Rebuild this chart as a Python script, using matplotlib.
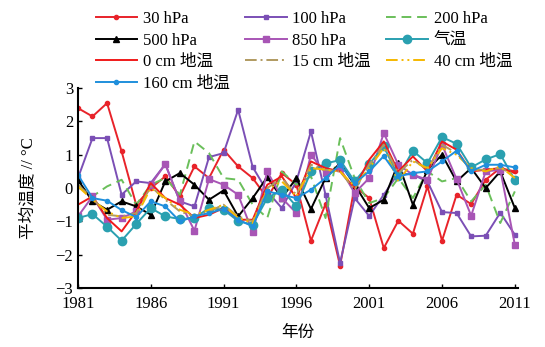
import numpy as np
import matplotlib
matplotlib.use("Agg")
import matplotlib.pyplot as plt

plt.rcParams['font.family'] = ['Liberation Serif', 'Noto Sans CJK SC']
plt.rcParams['axes.unicode_minus'] = True

years = np.arange(1981, 2012)

p30 = [2.4, 2.15, 2.55, 1.1, -0.5, 0.0, 0.35, -0.25, 0.65, 0.3, 1.15, 0.65, 0.3, -0.3, 0.45, 0.1,
       -1.58, -0.48, -2.33, 0.05, -0.3, -1.8, -0.98, -1.37, 0.05, -1.58, -0.2, -0.48, 0.25, 0.6, 0.5]
p100 = [0.3, 1.5, 1.5, -0.2, 0.2, 0.15, 0.72, -0.4, -0.55, 0.93, 1.05, 2.35, 0.63, -0.1, -0.6, 0.2,
        1.7, -0.2, -2.25, -0.3, -0.84, -0.2, 0.45, 0.4, 0.2, -0.72, -0.75, -1.45, -1.43, -0.74, -1.4]
p200 = [0.1, -0.25, 0.05, 0.25, -0.5, 0.1, 0.3, -0.2, 1.4, 1.05, 0.3, 0.25, -0.5, -0.9, 0.5, 0.1,
        0.35, -0.9, 1.5, 0.3, -0.45, -0.3, 0.3, -0.3, 0.5, 0.2, 0.3, -0.4, 0.1, -1.05, -0.1]
p500 = [0.25, -0.4, -0.65, -0.4, -0.55, -0.8, 0.2, 0.45, 0.1, -0.35, -0.07, -0.85, -0.3, 0.33, -0.3, 0.3,
        -0.63, 0.3, 0.75, 0.1, -0.6, -0.35, 0.75, -0.5, 0.55, 1.0, 0.2, 0.6, 0.0, 0.5, -0.6]
p850 = [-0.85, -0.25, -0.95, -0.9, -0.7, 0.1, 0.72, -0.4, -1.28, 0.27, 0.1, -0.2, -1.33, 0.5, -0.3, -0.75,
        1.0, 0.45, 0.6, -0.15, 0.3, 1.65, 0.7, 0.4, 0.25, 1.3, 0.27, -0.83, 0.5, 0.55, -1.7]
air = [-0.9, -0.78, -1.16, -1.58, -1.08, -0.6, -0.85, -0.93, -0.9, -0.6, -0.65, -0.99, -1.1, -0.3, -0.05, -0.55,
       0.5, 0.74, 0.84, 0.2, 0.72, 1.25, 0.35, 1.12, 0.75, 1.53, 1.33, 0.62, 0.86, 1.02, 0.24]
g0 = [-0.5, -0.25, -0.9, -1.3, -0.7, 0.15, -0.3, -0.5, -0.9, -0.8, -0.6, -0.95, -0.95, 0.1, 0.35, -0.3,
      0.8, 0.6, 0.5, 0.0, 0.85, 1.4, 0.5, 0.95, 0.5, 1.4, 1.15, 0.5, 0.55, 0.6, 0.45]
g15 = [0.1, -0.3, -0.8, -0.85, -0.75, 0.05, -0.35, -0.7, -0.85, -0.7, -0.5, -0.85, -1.0, 0.0, 0.3, -0.2,
       0.7, 0.55, 0.5, -0.05, 0.7, 1.3, 0.45, 0.85, 0.55, 1.3, 1.05, 0.55, 0.55, 0.6, 0.4]
g40 = [0.05, -0.35, -0.7, -0.9, -0.85, 0.0, -0.3, -0.65, -0.8, -0.65, -0.5, -0.9, -1.05, -0.05, 0.2, -0.25,
       0.6, 0.55, 0.5, 0.05, 0.6, 1.2, 0.2, 0.8, 0.6, 1.2, 1.0, 0.6, 0.5, 0.65, 0.3]
g160 = [0.4, -0.3, -0.38, -0.66, -0.87, -0.4, -0.55, -1.0, -0.85, -0.75, -0.62, -0.95, -1.15, -0.1, -0.2, -0.3,
        -0.05, 0.3, 0.7, 0.15, 0.5, 0.96, 0.35, 0.45, 0.5, 0.8, 1.12, 0.5, 0.7, 0.7, 0.62]

fig = plt.figure(figsize=(5.45, 3.47), dpi=100)
ax = fig.add_axes([0.143, 0.17, 0.807, 0.576])

lw = 1.4
l1, = ax.plot(years, p30, color='#e8232a', lw=lw, marker='o', ms=3, label='30 hPa')
l2, = ax.plot(years, p100, color='#7b4fb5', lw=lw, marker='s', ms=3.5, label='100 hPa')
l3, = ax.plot(years, p200, color='#6abf5a', lw=lw, ls=(0, (5, 3)), label='200 hPa')
l4, = ax.plot(years, p500, color='black', lw=lw, marker='^', ms=4, label='500 hPa')
l5, = ax.plot(years, p850, color='#a855b5', lw=lw, marker='s', ms=4, label='850 hPa')
l6, = ax.plot(years, air, color='#2aa0b0', lw=lw, marker='o', ms=6, label='气温')
l7, = ax.plot(years, g0, color='#f01a1a', lw=lw, label='0 cm 地温')
l8, = ax.plot(years, g15, color='#b09a60', lw=lw, ls=(0, (6, 2, 1, 2)), label='15 cm 地温')
l9, = ax.plot(years, g40, color='#f5b800', lw=lw, ls=(0, (6, 2, 1, 2, 1, 2)), label='40 cm 地温')
l10, = ax.plot(years, g160, color='#1f8fdc', lw=lw, marker='o', ms=3, label='160 cm 地温')

ax.set_xlim(1981, 2011.2)
ax.set_ylim(-3, 3)
ax.set_xticks([1981, 1986, 1991, 1996, 2001, 2006, 2011])
ax.set_yticks([-3, -2, -1, 0, 1, 2, 3])
ax.tick_params(direction='in', labelsize=12, length=3, width=1)
ax.tick_params(axis='x', pad=6)
for s in ['top', 'right']:
    ax.spines[s].set_visible(False)
for s in ['left', 'bottom']:
    ax.spines[s].set_linewidth(1.5)

ax.set_xlabel('年份', fontsize=12, labelpad=9)
ax.set_ylabel('平均温度 // °C', fontsize=12, labelpad=14)

# matplotlib fills legend column by column; order so rows read like the reference
handles = [l1, l4, l7, l10, l2, l5, l8, l3, l6, l9]
fig.legend(handles=handles, ncol=3, loc='upper left', bbox_to_anchor=(0.163, 0.987),
           frameon=False, fontsize=12, handlelength=2.5, columnspacing=0.9,
           labelspacing=0.33, handletextpad=0.35, borderaxespad=0.0)

fig.savefig('out.png', dpi=100)
